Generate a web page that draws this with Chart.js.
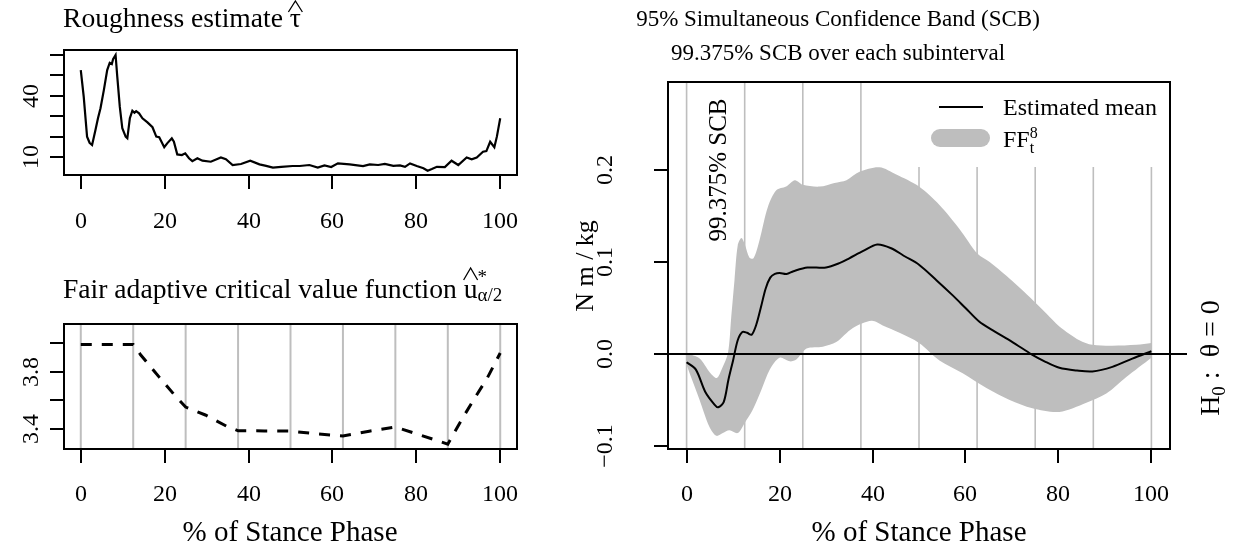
<!DOCTYPE html>
<html>
<head>
<meta charset="utf-8">
<title>Roughness, critical value and SCB</title>
<script src="https://cdn.jsdelivr.net/npm/chart.js@4.4.1/dist/chart.umd.min.js"></script>
<style>
  html, body { margin: 0; padding: 0; background: #fff; }
  #wrap { position: relative; width: 1234px; height: 550px; }
  #wrap canvas { position: absolute; left: 0; top: 0; }
</style>
</head>
<body>
<div id="wrap">
  <canvas id="roughChart" width="1234" height="550"></canvas>
  <canvas id="critChart" width="1234" height="550"></canvas>
  <canvas id="bandChart" width="1234" height="550"></canvas>
</div>
<script>
// ---- data ----
const stanceTicks = [0, 20, 40, 60, 80, 100];
const subintervalEdges = [0, 12.5, 25, 37.5, 50, 62.5, 75, 87.5, 100];

// roughness estimate tau-hat
const roughT = [0, 0.7, 1.5, 2.1, 2.7, 3.5, 4.1, 4.7, 5.5, 6.3, 6.9, 7.4, 7.7, 8.3, 8.7, 9.3, 9.9, 10.7, 11.1, 11.7,
  12.3, 12.8, 13.2, 13.9, 14.7, 15.9, 17.1, 18.0, 18.7, 19.9, 20.6, 21.7, 22.2, 23.0, 24.1, 24.9, 25.8, 26.6, 27.8, 29.0,
  31.0, 33.4, 34.6, 36.2, 38.2, 40.4, 42.6, 44.2, 45.8, 47.8, 50.5, 52.2, 54.5, 56.5, 58.1, 59.7, 61.3, 64.1, 67.3, 68.9,
  70.9, 72.5, 74.5, 76.1, 77.3, 78.5, 80.1, 81.7, 82.7, 83.7, 84.9, 86.8, 88.4, 90.0, 92.0, 93.2, 94.4, 95.9, 96.7, 97.6,
  98.6, 99.2, 100];
const roughV = [52.6, 39.6, 20.0, 17.0, 15.9, 23.2, 29.0, 33.9, 42.8, 52.6, 56.2, 55.6, 57.9, 60.0, 49.4, 34.7, 24.1, 20.0, 19.2, 29.0,
  32.7, 31.7, 32.5, 31.4, 29.0, 27.0, 24.6, 20.0, 19.7, 14.8, 16.7, 19.2, 17.5, 11.3, 11.0, 11.8, 9.4, 8.0, 9.4, 8.2,
  7.7, 9.8, 8.9, 6.1, 6.6, 8.2, 6.4, 5.7, 4.8, 5.2, 5.6, 5.6, 6.1, 4.8, 5.9, 5.1, 6.9, 6.4, 5.6, 6.4,
  6.1, 6.6, 5.7, 5.9, 5.2, 6.9, 5.6, 4.5, 3.3, 4.1, 5.2, 5.1, 8.2, 6.1, 9.8, 8.9, 9.8, 12.6, 12.9, 17.5,
  14.8, 20.0, 29.0];
const roughYTicks = [10, 20, 30, 40, 50, 60];
const roughYLabeled = [10, 40];

// fair adaptive critical value function
const critT = [0, 12.5, 14.3, 18.75, 22.7, 25, 29.7, 34.7, 37.5, 43.75, 50, 56.25, 62.5, 68.75, 75, 81.25, 87.5, 91.1, 94, 96.9, 100];
const critV = [3.99, 3.99, 3.916, 3.76, 3.625, 3.553, 3.498, 3.421, 3.388, 3.387, 3.386, 3.366, 3.352, 3.385, 3.414, 3.355, 3.295, 3.48, 3.62, 3.755, 3.93];
const critYTicks = [3.4, 3.6, 3.8, 4.0];
const critYLabeled = [3.4, 3.8];

// estimated mean and FF band
const meanT = [0, 2, 4, 6, 6.8, 8, 9, 10, 11, 12, 13, 14, 15, 16, 17, 18, 19, 20, 21.5, 23, 26, 30, 33, 35, 38, 41, 44, 47, 50,
  53.8, 57.2, 60, 63, 65.8, 70.1, 74.4, 77, 80.2, 84, 87.3, 91.6, 95.9, 100];
const meanV = [-0.009, -0.017, -0.041, -0.055, -0.058, -0.052, -0.028, -0.007, 0.015, 0.024, 0.023, 0.021, 0.032, 0.051, 0.071,
  0.083, 0.087, 0.088, 0.087, 0.090, 0.094, 0.094, 0.099, 0.104, 0.112, 0.119, 0.115, 0.106, 0.097,
  0.080, 0.064, 0.050, 0.035, 0.026, 0.013, -0.001, -0.008, -0.015, -0.018, -0.019, -0.014, -0.005, 0.003];
const upperT = [0, 2.8, 5, 6.5, 7.6, 8.9, 9.6, 10.3, 11, 11.8, 12.6, 13.5, 14.4, 15.7, 17.5, 19.3, 21.4, 23.3, 25, 28.6,
  31.8, 34.4, 37.2, 41.5, 45.1, 50, 54.4, 58.7, 62.6, 65.2, 68.8, 73.8, 77.4, 80.2, 84.5, 87.3, 91.6, 96.8, 100];
const upperV = [0.001, -0.005, -0.02, -0.026, -0.016, 0.001, 0.04, 0.08, 0.118, 0.126, 0.118, 0.105, 0.104, 0.124, 0.16, 0.178, 0.182, 0.189, 0.184, 0.182,
  0.186, 0.189, 0.198, 0.203, 0.195, 0.182, 0.162, 0.136, 0.109, 0.100, 0.085, 0.062, 0.044, 0.03, 0.015, 0.01, 0.009, 0.01, 0.012];
const lowerT = [0, 2.8, 4.9, 6.4, 7.8, 9.2, 11, 12.5, 14.2, 16.1, 17.9, 20, 22.2, 23.6, 25.8, 29.3, 32.2, 35.7, 39.8, 42.2,
  45.8, 50, 54.4, 59.4, 64.5, 69.5, 74.4, 80.2, 86, 90.3, 94.6, 100];
const lowerV = [-0.012, -0.05, -0.079, -0.089, -0.086, -0.083, -0.086, -0.075, -0.061, -0.039, -0.017, -0.004, -0.008, -0.006, 0.006, 0.008, 0.013, 0.028, 0.036, 0.031,
  0.023, 0.012, -0.007, -0.021, -0.037, -0.05, -0.059, -0.063, -0.053, -0.043, -0.025, -0.004];
const bandYTicks = [-0.1, 0, 0.1, 0.2];
const bandYLabels = ['\u22120.1', '0.0', '0.1', '0.2'];

// ---- drawing helpers (R base-graphics look) ----
const FONT = '"Liberation Serif", "Times New Roman", serif';
const GREY = '#BEBEBE';
const TICK = 24;    // tick labels
const LAB = 29;     // axis titles
const MAIN = 27.6;  // panel titles on the left
const font = px => px + 'px ' + FONT;

function toPoints(xs, ys) {
    return xs.map((x, i) => ({ x: x, y: ys[i] }));
}

function text(ctx, str, x, y, px, align) {
    ctx.font = font(px);
    ctx.textAlign = align || 'center';
    ctx.textBaseline = 'alphabetic';
    ctx.fillStyle = '#000';
    ctx.fillText(str, x, y);
}

// text rotated 90deg, reading bottom to top; x is the baseline
function vtext(ctx, str, x, y, px) {
    ctx.save();
    ctx.translate(x, y);
    ctx.rotate(-Math.PI / 2);
    text(ctx, str, 0, 0, px, 'center');
    ctx.restore();
}

// a row of text pieces with sub/superscripts and hats
function mathRow(ctx, parts, x, y, align, rotated) {
    ctx.save();
    ctx.translate(x, y);
    if (rotated) ctx.rotate(-Math.PI / 2);
    let total = 0;
    const widths = parts.map(p => {
        ctx.font = font(p.px);
        const w = ctx.measureText(p.s).width;
        if (!p.keep) total += w;
        return w;
    });
    let cx = align === 'center' ? -total / 2 : 0;
    parts.forEach((p, i) => {
        text(ctx, p.s, cx, p.dy || 0, p.px, 'left');
        if (p.hat) {
            const w = widths[i];
            ctx.beginPath();
            ctx.moveTo(cx + w / 2 - 7, -p.hat[0]);
            ctx.lineTo(cx + w / 2, -p.hat[1]);
            ctx.lineTo(cx + w / 2 + 7, -p.hat[0]);
            ctx.lineWidth = 1.3;
            ctx.strokeStyle = '#000';
            ctx.stroke();
        }
        if (!p.keep) cx += widths[i];
    });
    ctx.restore();
}

function drawBox(chart) {
    const a = chart.chartArea;
    const ctx = chart.ctx;
    ctx.save();
    ctx.strokeStyle = '#000';
    ctx.lineWidth = 2;
    ctx.strokeRect(a.left, a.top, a.right - a.left, a.bottom - a.top);
    ctx.restore();
}

function drawXAxis(chart, ticks, labelBase) {
    const ctx = chart.ctx;
    const a = chart.chartArea;
    ctx.save();
    ctx.strokeStyle = '#000';
    ctx.lineWidth = 2;
    ticks.forEach(t => {
        const px = Math.round(chart.scales.x.getPixelForValue(t));
        ctx.beginPath();
        ctx.moveTo(px, a.bottom);
        ctx.lineTo(px, a.bottom + 14);
        ctx.stroke();
        text(ctx, String(t), px, labelBase, TICK, 'center');
    });
    ctx.restore();
}

function drawYAxis(chart, ticks, labels, labelBase) {
    const ctx = chart.ctx;
    const a = chart.chartArea;
    ctx.save();
    ctx.strokeStyle = '#000';
    ctx.lineWidth = 2;
    ticks.forEach((t, i) => {
        const py = Math.round(chart.scales.y.getPixelForValue(t));
        ctx.beginPath();
        ctx.moveTo(a.left, py);
        ctx.lineTo(a.left - 14, py);
        ctx.stroke();
        if (labels[i]) vtext(ctx, labels[i], labelBase, py, TICK);
    });
    ctx.restore();
}

function drawEdges(chart, width) {
    const ctx = chart.ctx;
    const a = chart.chartArea;
    ctx.save();
    ctx.strokeStyle = GREY;
    ctx.lineWidth = width;
    subintervalEdges.forEach(t => {
        const px = chart.scales.x.getPixelForValue(t);
        ctx.beginPath();
        ctx.moveTo(px, a.top);
        ctx.lineTo(px, a.bottom);
        ctx.stroke();
    });
    ctx.restore();
}

function baseOptions(padding, xMin, xMax, yMin, yMax) {
    return {
        responsive: false,
        animation: false,
        devicePixelRatio: 1,
        layout: { padding: padding },
        plugins: { legend: { display: false }, tooltip: { enabled: false } },
        elements: { point: { radius: 0 } },
        scales: {
            x: { type: 'linear', display: false, min: xMin, max: xMax },
            y: { type: 'linear', display: false, min: yMin, max: yMax }
        }
    };
}

// ---- top left: roughness estimate ----
new Chart(document.getElementById('roughChart'), {
    type: 'line',
    data: {
        datasets: [{
            data: toPoints(roughT, roughV),
            borderColor: '#000',
            borderWidth: 2.2,
            tension: 0,
            fill: false
        }]
    },
    options: baseOptions({ left: 64, right: 717, top: 50, bottom: 375 }, -4, 104, 1.2, 62.45),
    plugins: [{
        id: 'roughDecor',
        afterDraw(chart) {
            const ctx = chart.ctx;
            drawBox(chart);
            drawXAxis(chart, stanceTicks, 228);
            drawYAxis(chart, roughYTicks, roughYTicks.map(t => roughYLabeled.includes(t) ? String(t) : ''), 38);
            mathRow(ctx, [
                { s: 'Roughness estimate ', px: MAIN },
                { s: '\u03C4', px: MAIN, hat: [15, 26] }
            ], 63, 27, 'left', false);
        }
    }]
});

// ---- bottom left: fair adaptive critical value function ----
new Chart(document.getElementById('critChart'), {
    type: 'line',
    data: {
        datasets: [{
            data: toPoints(critT, critV),
            borderColor: '#000',
            borderWidth: 3,
            borderDash: [11, 10],
            tension: 0,
            fill: false
        }]
    },
    options: baseOptions({ left: 64, right: 717, top: 324, bottom: 101 }, -4, 104, 3.261, 4.132),
    plugins: [{
        id: 'critDecor',
        beforeDatasetsDraw(chart) {
            drawEdges(chart, 2);
        },
        afterDraw(chart) {
            const ctx = chart.ctx;
            drawBox(chart);
            drawXAxis(chart, stanceTicks, 501);
            drawYAxis(chart, critYTicks, critYTicks.map(t => critYLabeled.includes(t) ? t.toFixed(1) : ''), 38);
            text(ctx, '% of Stance Phase', 290, 541, LAB, 'center');
            mathRow(ctx, [
                { s: 'Fair adaptive critical value function ', px: MAIN },
                { s: 'u', px: MAIN, hat: [18, 30] },
                { s: '*', px: 19, dy: -15, keep: true },
                { s: '\u03B1/2', px: 19, dy: 3 }
            ], 63, 298, 'left', false);
        }
    }]
});

// ---- right: estimated mean with simultaneous confidence band ----
new Chart(document.getElementById('bandChart'), {
    type: 'line',
    data: {
        datasets: [
            {
                label: 'Estimated mean',
                data: toPoints(meanT, meanV),
                borderColor: '#000',
                borderWidth: 2,
                tension: 0.3,
                fill: false
            },
            {
                label: 'lower',
                data: toPoints(lowerT, lowerV),
                borderColor: GREY,
                borderWidth: 0,
                tension: 0.3,
                fill: false
            },
            {
                label: 'FF',
                data: toPoints(upperT, upperV),
                borderColor: GREY,
                backgroundColor: GREY,
                borderWidth: 0,
                tension: 0.3,
                fill: '-1'
            }
        ]
    },
    options: baseOptions({ left: 668, right: 64, top: 82, bottom: 101 }, -4, 104, -0.1033, 0.2957),
    plugins: [{
        id: 'bandDecor',
        beforeDatasetsDraw(chart) {
            drawEdges(chart, 1.6);
        },
        afterDatasetsDraw(chart) {
            const ctx = chart.ctx;
            const a = chart.chartArea;
            const y0 = Math.round(chart.scales.y.getPixelForValue(0));
            ctx.save();
            ctx.strokeStyle = '#000';
            ctx.lineWidth = 2;
            ctx.beginPath();
            ctx.moveTo(a.left, y0);
            ctx.lineTo(1187, y0);
            ctx.stroke();
            ctx.restore();
        },
        afterDraw(chart) {
            const ctx = chart.ctx;
            const a = chart.chartArea;

            // legend
            ctx.save();
            ctx.fillStyle = '#fff';
            ctx.fillRect(908, a.top, a.right - 908, 85);
            ctx.strokeStyle = '#000';
            ctx.lineWidth = 2;
            ctx.beginPath();
            ctx.moveTo(939, 107);
            ctx.lineTo(983, 107);
            ctx.stroke();
            ctx.strokeStyle = GREY;
            ctx.lineWidth = 18;
            ctx.lineCap = 'round';
            ctx.beginPath();
            ctx.moveTo(940, 138);
            ctx.lineTo(981, 138);
            ctx.stroke();
            ctx.restore();
            text(ctx, 'Estimated mean', 1003, 115, 24, 'left');
            mathRow(ctx, [
                { s: 'FF', px: 24 },
                { s: '8', px: 16, dy: -9, keep: true },
                { s: 't', px: 16, dy: 6 }
            ], 1003, 147, 'left', false);

            drawBox(chart);
            drawXAxis(chart, stanceTicks, 501);
            drawYAxis(chart, bandYTicks, bandYLabels, 612);

            text(ctx, '% of Stance Phase', 919, 541, LAB, 'center');
            vtext(ctx, 'N m / kg', 593, 266, 26);
            vtext(ctx, '99.375% SCB', 726, 170, 25);
            text(ctx, '95% Simultaneous Confidence Band (SCB)', 838, 26, 23, 'center');
            text(ctx, '99.375% SCB over each subinterval', 838, 60, 23, 'center');
            mathRow(ctx, [
                { s: 'H', px: 28 },
                { s: '0', px: 19, dy: 6 },
                { s: ' :  \u03B8 = 0', px: 28 }
            ], 1219, 358, 'center', true);
        }
    }]
});
</script>
</body>
</html>
